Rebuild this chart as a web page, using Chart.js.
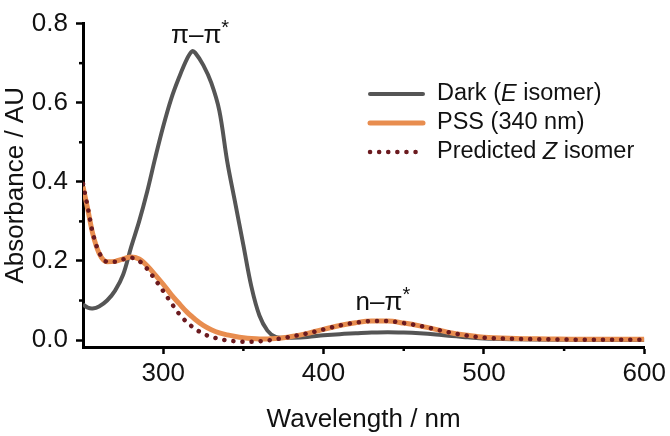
<!DOCTYPE html>
<html>
<head>
<meta charset="utf-8">
<script src="https://cdn.jsdelivr.net/npm/chart.js@4.4.0/dist/chart.umd.min.js"></script>
<style>
  html, body { margin: 0; padding: 0; background: #fff; }
  #wrap { width: 670px; height: 436px; position: relative; }
</style>
</head>
<body>
<div id="wrap"><canvas id="uvChart"></canvas></div>
<script>
// Wavelength grid (nm)
const wavelengths = [250, 253, 256, 260, 265, 270, 275, 280, 285, 290, 295, 300, 305, 310, 315, 318, 320, 325, 330, 335,
  340, 345, 350, 355, 360, 365, 370, 375, 380, 390, 400, 410, 420, 430, 440, 450, 460, 470, 480, 490,
  500, 520, 540, 560, 580, 600];

// Dark (E isomer)
const darkE = [0.09, 0.082, 0.08, 0.085, 0.10, 0.125, 0.165, 0.235, 0.30, 0.375, 0.46, 0.54, 0.61, 0.665, 0.712, 0.73, 0.726, 0.695, 0.65, 0.58,
  0.45, 0.345, 0.24, 0.135, 0.062, 0.024, 0.008, 0.006, 0.006, 0.008, 0.012, 0.015, 0.017, 0.019, 0.02, 0.019, 0.017, 0.014, 0.01, 0.007,
  0.004, 0.002, 0.001, 0.0005, 0, 0];

// PSS (340 nm)
const pss340 = [0.388, 0.33, 0.27, 0.22, 0.198, 0.199, 0.205, 0.21, 0.205, 0.188, 0.165, 0.141, 0.115, 0.092, 0.07, 0.059, 0.052, 0.037, 0.026, 0.018,
  0.013, 0.009, 0.006, 0.004, 0.003, 0.003, 0.004, 0.006, 0.009, 0.017, 0.027, 0.037, 0.044, 0.048, 0.048, 0.043, 0.036, 0.027, 0.018, 0.012,
  0.007, 0.004, 0.003, 0.002, 0.002, 0.002];

// Predicted Z isomer
const predZ = [0.395, 0.335, 0.272, 0.222, 0.198, 0.198, 0.204, 0.208, 0.20, 0.18, 0.153, 0.124, 0.094, 0.066, 0.044, 0.034, 0.028, 0.016, 0.008, 0.003,
  -0.001, -0.003, -0.004, -0.004, -0.003, -0.001, 0.002, 0.005, 0.009, 0.017, 0.027, 0.037, 0.044, 0.048, 0.048, 0.043, 0.036, 0.027, 0.018, 0.011,
  0.006, 0.003, 0.002, 0.001, 0.001, 0.001];

const xMajor = [300, 400, 500, 600];
const xMinor = [350, 450, 550];
const yMajor = [0, 0.2, 0.4, 0.6, 0.8];
const yMinor = [0.1, 0.3, 0.5, 0.7];

const FONT = "'Liberation Sans', Arial, sans-serif";

function pts(ys) {
  return wavelengths.map((x, i) => ({ x: x, y: ys[i] }));
}

// kleine ticks, legenda, band labels
const extras = {
  id: 'extras',
  afterDraw(chart) {
    const ctx = chart.ctx;
    const xs = chart.scales.x, ys = chart.scales.y;
    const area = chart.chartArea;
    ctx.save();
    ctx.strokeStyle = '#000';
    ctx.lineWidth = 2.5;
    yMinor.forEach(v => {
      const py = ys.getPixelForValue(v);
      ctx.beginPath(); ctx.moveTo(area.left - 4, py); ctx.lineTo(area.left, py); ctx.stroke();
    });
    xMinor.forEach(v => {
      const px = xs.getPixelForValue(v);
      ctx.beginPath(); ctx.moveTo(px, area.bottom); ctx.lineTo(px, area.bottom + 4); ctx.stroke();
    });

    // legend
    const rows = [
      { parts: [['Dark (', false], ['E', true], [' isomer)', false]], color: '#555555', width: 4, dash: [] },
      { parts: [['PSS (340 nm)', false]], color: '#E88D4F', width: 5, dash: [] },
      { parts: [['Predicted ', false], ['Z', true], [' isomer', false]], color: '#6B1A1F', width: 4.5, dash: [0.1, 9] }
    ];
    rows.forEach((r, i) => {
      const y = 94 + i * 29;
      ctx.beginPath();
      ctx.strokeStyle = r.color;
      ctx.lineWidth = r.width;
      ctx.lineCap = 'round';
      ctx.setLineDash(r.dash);
      ctx.moveTo(370, y); ctx.lineTo(423, y);
      ctx.stroke();
      ctx.setLineDash([]);
      let tx = 437;
      ctx.fillStyle = '#111';
      ctx.textBaseline = 'middle';
      r.parts.forEach(([t, it]) => {
        ctx.font = (it ? 'italic ' : '') + '23.5px ' + FONT;
        ctx.fillText(t, tx, y);
        tx += ctx.measureText(t).width;
      });
    });

    // band labels
    function band(text, cx, base) {
      ctx.font = '26px ' + FONT;
      ctx.textBaseline = 'alphabetic';
      const w1 = ctx.measureText(text).width;
      ctx.font = '20px ' + FONT;
      const w2 = ctx.measureText('*').width;
      const x0 = cx - (w1 + w2) / 2;
      ctx.font = '26px ' + FONT;
      ctx.fillText(text, x0, base);
      ctx.font = '20px ' + FONT;
      ctx.fillText('*', x0 + w1, base - 9);
    }
    ctx.fillStyle = '#111';
    band('\u03C0\u2013\u03C0', xs.getPixelForValue(323), 43);
    band('n\u2013\u03C0', xs.getPixelForValue(437), 310);
    ctx.restore();
  }
};

new Chart(document.getElementById('uvChart'), {
  type: 'line',
  data: {
    datasets: [
      { label: 'Dark (E isomer)', data: pts(darkE), order: 3, borderColor: '#555555', borderWidth: 4, pointRadius: 0, tension: 0.35 },
      { label: 'PSS (340 nm)', data: pts(pss340), order: 2, borderColor: '#E88D4F', borderWidth: 5, pointRadius: 0, cubicInterpolationMode: 'monotone' },
      { label: 'Predicted Z isomer', data: pts(predZ), order: 1, borderColor: '#6B1A1F', borderWidth: 4.5, borderDash: [0.1, 9], borderCapStyle: 'round', pointRadius: 0, cubicInterpolationMode: 'monotone' }
    ]
  },
  options: {
    responsive: true,
    maintainAspectRatio: false,
    animation: false,
    layout: { padding: { top: 20, right: 23, left: 0, bottom: 0 } },
    plugins: { legend: { display: false }, tooltip: { enabled: false } },
    scales: {
      x: {
        type: 'linear',
        min: 250,
        max: 600,
        afterFit: s => { s.height = 89; },
        afterBuildTicks: s => { s.ticks = xMajor.map(v => ({ value: v })); },
        grid: { drawOnChartArea: false, tickLength: 7, tickWidth: 2.5, tickColor: '#000' },
        border: { color: '#000', width: 3 },
        ticks: { color: '#111', padding: 4, font: { family: FONT, size: 26 } },
        title: { display: true, text: 'Wavelength / nm', color: '#111', padding: { top: 0, bottom: 1 }, font: { family: FONT, size: 26 } }
      },
      y: {
        min: -0.0175,
        max: 0.8,
        afterFit: s => { s.width = 83; },
        afterBuildTicks: s => { s.ticks = yMajor.map(v => ({ value: v })); },
        grid: { drawOnChartArea: false, tickLength: 7, tickWidth: 2.5, tickColor: '#000' },
        border: { color: '#000', width: 3 },
        ticks: { color: '#111', padding: 8, font: { family: FONT, size: 26 }, callback: v => v.toFixed(1) },
        title: { display: true, text: 'Absorbance / AU', color: '#111', padding: { top: 0, bottom: 0 }, font: { family: FONT, size: 26 } }
      }
    }
  },
  plugins: [extras]
});
</script>
</body>
</html>
